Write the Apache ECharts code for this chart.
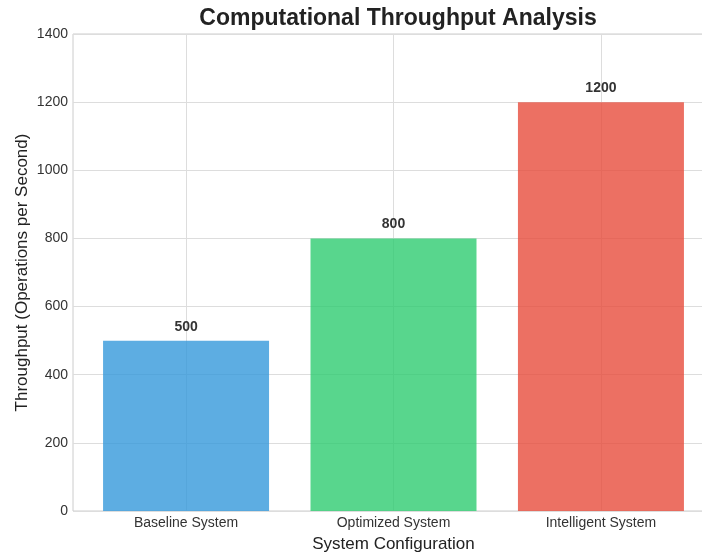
<!DOCTYPE html>
<html><head><meta charset="utf-8">
<script src="https://cdn.jsdelivr.net/npm/echarts@6/dist/echarts.min.js"></script>
<style>html,body{margin:0;padding:0;background:#fff}#c{width:702px;height:554px}</style>
</head><body><div id="c"></div>
<script>
const categories = ["Baseline System", "Optimized System", "Intelligent System"];
const values = [500, 800, 1200];
const colors = ["rgba(52,152,219,0.8)", "rgba(46,204,113,0.8)", "rgba(231,76,60,0.8)"];
const yTicks = [0, 200, 400, 600, 800, 1000, 1200, 1400];

const FONT = "'Liberation Sans', Arial, Helvetica, sans-serif";
const chart = echarts.init(document.getElementById('c'), null, {renderer: 'canvas'});
const catIdx = categories.map((_, i) => i);
chart.setOption({
  animation: false,
  backgroundColor: '#fff',
  title: {
    text: 'Computational Throughput Analysis',
    left: 393, top: 2, textAlign: 'center',
    textStyle: {fontFamily: FONT, fontSize: 23, fontWeight: 'bold', color: '#222'}
  },
  grid: {left: 73, right: -12, top: 34, bottom: 43, show: true, borderColor: '#cccccc', borderWidth: 1,
    containLabel: false, outerBoundsMode: 'none'},
  xAxis: {
    type: 'value', min: -0.545, max: 2.545,
    name: 'System Configuration', nameLocation: 'middle', nameGap: 25,
    nameTextStyle: {fontFamily: FONT, fontSize: 17, color: '#222'},
    axisLine: {show: false},
    axisTick: {show: false, customValues: catIdx},
    axisLabel: {customValues: catIdx, formatter: v => categories[Math.round(v)] || '', fontFamily: FONT, fontSize: 14, color: '#333', margin: 5},
    splitLine: {show: true, lineStyle: {color: '#dddddd', width: 1}}
  },
  yAxis: {
    type: 'value', min: 0, max: 1400, interval: 200,
    name: 'Throughput (Operations per Second)', nameLocation: 'middle', nameGap: 42, nameMoveOverlap: false,
    nameTextStyle: {fontFamily: FONT, fontSize: 17, color: '#222'},
    axisLine: {show: false}, axisTick: {show: false},
    axisLabel: {fontFamily: FONT, fontSize: 14, color: '#333', margin: 5,
      formatter: v => yTicks.includes(v) ? String(v) : ''},
    splitLine: {show: true, lineStyle: {color: '#dddddd', width: 1}}
  },
  series: [{
    type: 'bar',
    barWidth: 166,
    data: values.map((v, i) => ({value: [i, v], itemStyle: {color: colors[i]}})),
    label: {show: true, position: 'top', distance: 7, fontFamily: FONT, fontSize: 14, fontWeight: 'bold', color: '#333',
      formatter: p => String(p.value[1])}
  }]
});
</script></body></html>
